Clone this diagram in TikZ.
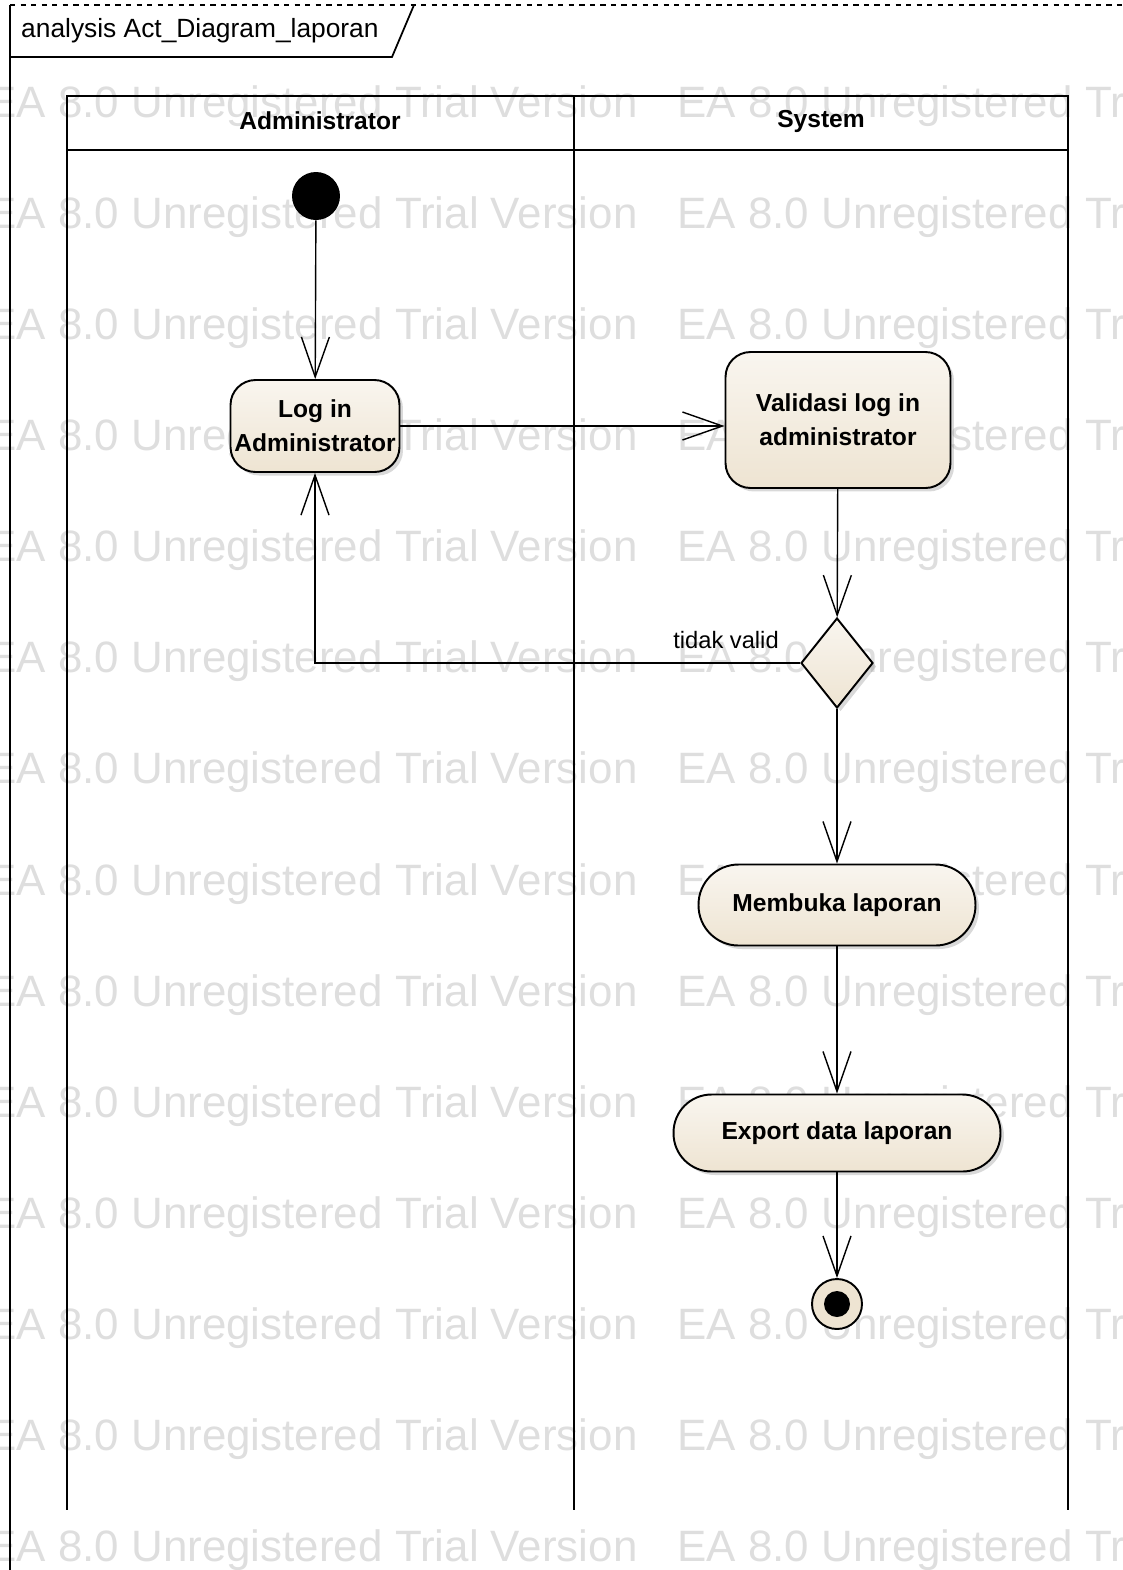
\documentclass[tikz,border=0pt]{standalone}
\usepackage{fontspec}
\setmainfont{Liberation Sans}
\usetikzlibrary{arrows.meta}
\usetikzlibrary{shapes.geometric}
\usetikzlibrary{shadows}
\definecolor{actfill}{RGB}{238,228,210}
\definecolor{wmgray}{RGB}{222,222,222}
\tikzset{flow/.style={line width=0.8pt,
  -{Straight Barb[length=0.8cm,width=0.56cm,line width=0.8pt]}}}
\tikzset{act/.style={draw,line width=1.1pt,rounded corners=0.5cm,
  top color=actfill!35,bottom color=actfill,align=center,
  font=\fontsize{14}{19.5}\selectfont\bfseries,
  drop shadow={shadow xshift=0.07cm,shadow yshift=-0.07cm,opacity=0.3}}}
\tikzset{lane/.style={line width=1.1pt}}
\tikzset{lanehead/.style={font=\fontsize{14}{17}\selectfont\bfseries}}

\begin{document}
\begin{tikzpicture}[x=0.02cm,y=-0.02cm]
      \useasboundingbox (0,0) rectangle (1123,1570);
      % watermark
      \foreach \r in {0,...,13} {
        \foreach \c in {-13,677} {
          \node [wmgray,anchor=west,inner sep=0,font=\fontsize{25}{30}\selectfont]
            at (\c,106+111.1*\r) {EA 8.0 Unregistered Trial Version};
        }
      }
      % frame
      \draw [line width=1pt] (10,5) -- (10,1570);
      \draw [line width=1pt,dashed] (10,5) -- (1123,5);
      \draw [line width=1pt] (10,57) -- (392,57) -- (414,5);
      \node (title) [anchor=west,font=\fontsize{15}{18}\selectfont] at (15,31) {analysis Act\_Diagram\_laporan};
      % swimlanes
      \draw [lane] (67,96) rectangle (1068,150);
      \draw [lane] (67,150) -- (67,1510);
      \draw [lane] (574,96) -- (574,1510);
      \draw [lane] (1068,150) -- (1068,1510);
      \node (admin) [lanehead] at (320,121) {Administrator};
      \node (system) [lanehead] at (821,121) {System};
      % activities
      \node (init) [circle,fill=black,minimum size=0.96cm,inner sep=0] at (316,196) {};
      \node (login) [act,minimum width=3.38cm,minimum height=1.84cm,inner sep=1pt] at (315,426) {Log in\\Administrator};
      \node (valid) [act,minimum width=4.5cm,minimum height=2.72cm] at (838,420) {Validasi log in\\administrator};
      \node (dec) [diamond,draw,line width=1.1pt,top color=actfill!35,bottom color=actfill,
        minimum width=1.44cm,minimum height=1.8cm,inner sep=0,
        drop shadow={shadow xshift=0.07cm,shadow yshift=-0.07cm,opacity=0.3}] at (837,663) {};
      \node (lbl) [font=\fontsize{13.5}{16}\selectfont] at (726,640) {tidak valid};
      \node (buka) [act,rounded corners=0.8cm,minimum width=5.54cm,minimum height=1.62cm] at (837,905) {Membuka laporan};
      \node (export) [act,rounded corners=0.76cm,minimum width=6.54cm,minimum height=1.54cm] at (837,1133) {Export data laporan};
      \node (final) [circle,draw,line width=1.1pt,fill=actfill,minimum size=1cm,inner sep=0,
        path picture={\fill[black] (path picture bounding box.center) circle (0.26cm);}] at (837,1304) {};
      % flows
      \draw [flow] (init) -- (login);
      \draw [flow] (login) -- (valid.west |- login);
      \draw [flow] (valid) -- (dec);
      \draw [flow] (dec.west) -- (login |- dec.west) -- (login.south);
      \draw [flow] (dec) -- (buka);
      \draw [flow] (buka) -- (export);
      \draw [flow] (export) -- (final);
\end{tikzpicture}
\end{document}
